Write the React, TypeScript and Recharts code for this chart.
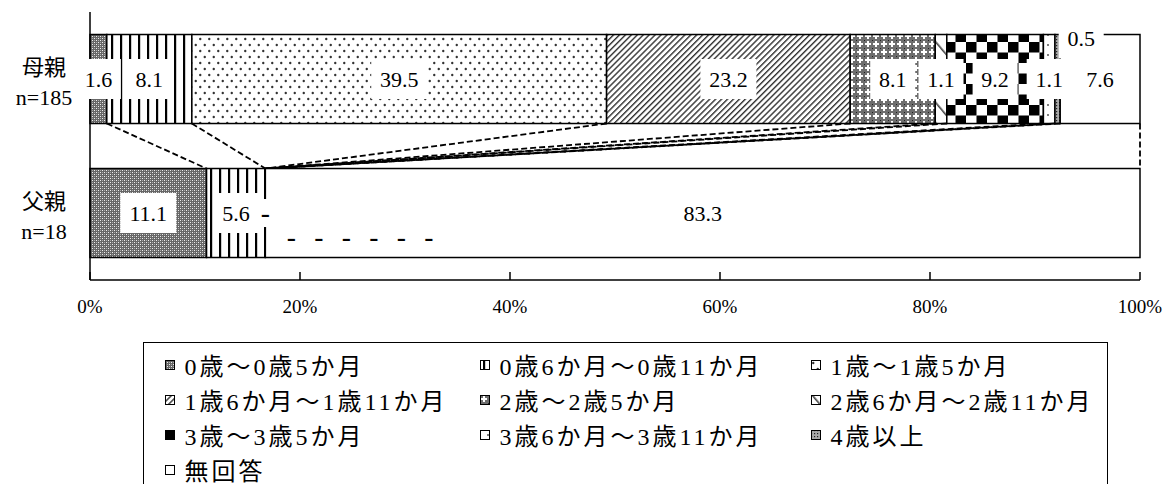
import { BarChart, Bar, XAxis, YAxis, LabelList } from 'recharts';

const groups = ['母親', '父親'];
const sampleSizes = ['n=185', 'n=18'];
const seriesNames = [
  '0歳～0歳5か月',
  '0歳6か月～0歳11か月',
  '1歳～1歳5か月',
  '1歳6か月～1歳11か月',
  '2歳～2歳5か月',
  '2歳6か月～2歳11か月',
  '3歳～3歳5か月',
  '3歳6か月～3歳11か月',
  '4歳以上',
  '無回答',
];
const motherValues = [1.6, 8.1, 39.5, 23.2, 8.1, 1.1, 9.2, 1.1, 0.5, 7.6];
const fatherValues = [11.1, 5.6, 0, 0, 0, 0, 0, 0, 0, 83.3];
const xTicks = [0, 20, 40, 60, 80, 100];

const rows = [motherValues, fatherValues];
const data = groups.map((name, gi) => {
  const row: Record<string, any> = { name };
  seriesNames.forEach((_, si) => {
    row[`s${si}`] = rows[gi][si];
  });
  return row;
});

const cumulate = (vals: number[]) => {
  let t = 0;
  return vals.map((v) => (t = Math.round((t + v) * 10) / 10));
};
const motherCum = cumulate(motherValues);
const fatherCum = cumulate(fatherValues);

const SERIF = "'Liberation Serif', 'Noto Sans CJK JP', serif";
const GAP = 0.168; // barCategoryGap as a fraction of the band

const Patterns = () => (
  <svg width={0} height={0} style={{ position: 'absolute' }}>
    <defs>
      <pattern id="p0" width="4" height="4" patternUnits="userSpaceOnUse">
        <rect width="4" height="4" fill="#666" />
        <rect x="0" y="0" width="1" height="1" fill="#eee" />
        <rect x="2" y="2" width="1" height="1" fill="#eee" />
        <rect x="2" y="0" width="1" height="1" fill="#aaa" />
        <rect x="0" y="2" width="1" height="1" fill="#aaa" />
      </pattern>
      <pattern id="p1" width="9" height="10" patternUnits="userSpaceOnUse">
        <rect width="9" height="10" fill="#fff" />
        <rect x="3" width="2.2" height="10" fill="#000" />
      </pattern>
      <pattern id="p2" width="9" height="12" patternUnits="userSpaceOnUse">
        <rect width="9" height="12" fill="#fff" />
        <circle cx="2.25" cy="3" r="1.2" fill="#333" />
        <circle cx="6.75" cy="9" r="1.2" fill="#333" />
      </pattern>
      <pattern id="p3" width="4.2" height="10" patternUnits="userSpaceOnUse" patternTransform="rotate(45)">
        <rect width="4.2" height="10" fill="#fff" />
        <rect width="1.4" height="10" fill="#333" />
      </pattern>
      <pattern id="p4" width="8" height="8" patternUnits="userSpaceOnUse">
        <rect width="8" height="8" fill="#6e6e6e" />
        <rect x="3" y="1" width="2" height="6" fill="#fff" />
        <rect x="1" y="3" width="6" height="2" fill="#fff" />
        <rect x="0" y="0" width="1" height="1" fill="#222" />
      </pattern>
      <pattern id="p5" width="13" height="10" patternUnits="userSpaceOnUse" patternTransform="rotate(-40)">
        <rect width="13" height="10" fill="#fff" />
        <rect width="1.6" height="10" fill="#444" />
      </pattern>
      <pattern id="p6" width="21" height="21" patternUnits="userSpaceOnUse">
        <rect width="21" height="21" fill="#fff" />
        <rect x="0" y="0" width="10.5" height="10.5" fill="#000" />
        <rect x="10.5" y="10.5" width="10.5" height="10.5" fill="#000" />
      </pattern>
      <pattern id="p7" width="10" height="10" patternUnits="userSpaceOnUse">
        <rect width="10" height="10" fill="#fff" />
        <circle cx="8" cy="5" r="1" fill="#555" />
      </pattern>
      <pattern id="p8" width="3" height="3" patternUnits="userSpaceOnUse">
        <rect width="3" height="3" fill="#aaa" />
        <rect x="0" y="0" width="1.2" height="1.2" fill="#222" />
      </pattern>
      <pattern id="p9" width="4" height="4" patternUnits="userSpaceOnUse">
        <rect width="4" height="4" fill="#fff" />
      </pattern>
    </defs>
  </svg>
);

const CategoryTick = (props: any) => {
  const { y, payload } = props;
  const gi = groups.indexOf(payload.value);
  return (
    <g>
      <text x={44} y={y - 12} textAnchor="middle" dominantBaseline="central" fontSize={22} fontFamily={SERIF} fill="#000">
        {payload.value}
      </text>
      <text x={44} y={y + 18} textAnchor="middle" dominantBaseline="central" fontSize={22} fontFamily={SERIF} fill="#000">
        {sampleSizes[gi]}
      </text>
    </g>
  );
};

// x tick: short inward mark plus the percent label
const PercentTick = (props: any) => {
  const { x, y, payload } = props;
  return (
    <g>
      <line x1={x} y1={y - 8} x2={x} y2={y} stroke="#000" strokeWidth={1.5} />
      <text x={x} y={y + 26} textAnchor="middle" dominantBaseline="central" fontSize={19} fontFamily={SERIF} fill="#000">
        {`${payload.value}%`}
      </text>
    </g>
  );
};

// segment rectangle; mother segments also draw the series line down to the father bar
const segmentShape = (si: number) => (props: any) => {
  const { x, y, width, height, index } = props;
  const v = (rows[index] || [])[si] || 0;
  let link = null;
  if (index === 0 && v > 0) {
    const ppu = width / v;
    const x0 = x + width;
    const y0 = y + height;
    const x1 = x0 + (fatherCum[si] - motherCum[si]) * ppu;
    const y1 = y0 + (height * 2 * GAP) / (1 - 2 * GAP);
    link = <line x1={x0} y1={y0} x2={x1} y2={y1} stroke="#000" strokeWidth={1.8} strokeDasharray="6 3" />;
  }
  return (
    <g>
      {width > 0 && (
        <rect x={x} y={y} width={width} height={height} fill={`url(#p${si})`} stroke="#000" strokeWidth={1.5} />
      )}
      {link}
    </g>
  );
};

const dashLabel = (x: number, y: number, key: string) => (
  <g key={key}>
    <rect x={x - 9} y={y - 14} width={18} height={28} fill="#fff" />
    <text x={x} y={y} textAnchor="middle" dominantBaseline="central" fontSize={27} fontFamily="'DejaVu Sans'" fill="#000">
      -
    </text>
  </g>
);

const renderLabel = (si: number) => (props: any) => {
  const { x, y, width, height, index } = props;
  const value = (rows[index] || [])[si];
  if (!value) return null;
  const cy = y + height / 2;
  // zero-valued series just before this one are marked with dashes
  const row = rows[index] || [];
  let run = 0;
  for (let k = si - 1; k >= 0 && row[k] === 0; k--) run++;
  const dashes = Array.from({ length: run }, (_, z) =>
    z === 0 ? dashLabel(x, cy, `d${z}`) : dashLabel(x + 26 + 27.5 * (z - 1), cy + 24, `d${z}`)
  );
  const txt = Number(value).toFixed(1);
  const small = value < 1;
  const cx = small ? x + width + 21 : x + width / 2;
  const ly = small ? y + 4 : cy;
  const w = txt.length * 11 + 12;
  return (
    <g>
      <rect x={cx - w / 2} y={ly - 20} width={w} height={40} fill="#fff" />
      <text x={cx} y={ly} textAnchor="middle" dominantBaseline="central" fontSize={22} fontFamily={SERIF} fill="#000">
        {txt}
      </text>
      {dashes}
    </g>
  );
};

const colLeft = [20.5, 335.5, 666.5];

const ChartLegend = () => (
  <div
    style={{
      position: 'absolute',
      left: 143,
      top: 342,
      width: 965,
      height: 170,
      border: '1.5px solid #000',
      boxSizing: 'border-box',
      background: '#fff',
      fontFamily: SERIF,
      fontSize: 24,
      color: '#000',
    }}
  >
    {seriesNames.map((s, i) => (
      <div
        key={s}
        style={{
          position: 'absolute',
          left: colLeft[i % 3],
          top: Math.floor(i / 3) * 35 + 4,
          height: 35,
          display: 'flex',
          alignItems: 'center',
          whiteSpace: 'nowrap',
          letterSpacing: 3,
        }}
      >
        <svg width={10} height={10} style={{ marginRight: 10, flex: 'none' }}>
          <rect x={0.5} y={0.5} width={9} height={9} fill={`url(#p${i})`} stroke="#000" strokeWidth={1} />
        </svg>
        <span>{s}</span>
      </div>
    ))}
  </div>
);

export default function App() {
  return (
    <div style={{ position: 'absolute', left: 0, top: 0, width: 1167, height: 484, overflow: 'hidden', background: '#fff' }}>
      <Patterns />
      <BarChart
        width={1167}
        height={484}
        data={data}
        layout="vertical"
        barCategoryGap="16.8%"
        margin={{ top: 12, right: 27, left: 0, bottom: 174 }}
      >
        <XAxis
          type="number"
          domain={[0, 100]}
          ticks={xTicks}
          interval={0}
          axisLine={{ stroke: '#000', strokeWidth: 1.5 }}
          tickLine={false}
          tickSize={0}
          tickMargin={0}
          height={30}
          tick={<PercentTick />}
        />
        <YAxis
          type="category"
          dataKey="name"
          width={90}
          axisLine={{ stroke: '#000', strokeWidth: 1.5 }}
          tickLine={false}
          tick={<CategoryTick />}
        />
        {seriesNames.map((s, si) => (
          <Bar
            key={s}
            dataKey={`s${si}`}
            name={s}
            stackId="a"
            fill={`url(#p${si})`}
            stroke="#000"
            strokeWidth={1.5}
            shape={segmentShape(si)}
            isAnimationActive={false}
          >
            <LabelList dataKey={`s${si}`} content={renderLabel(si)} />
          </Bar>
        ))}
      </BarChart>
      <ChartLegend />
    </div>
  );
}
